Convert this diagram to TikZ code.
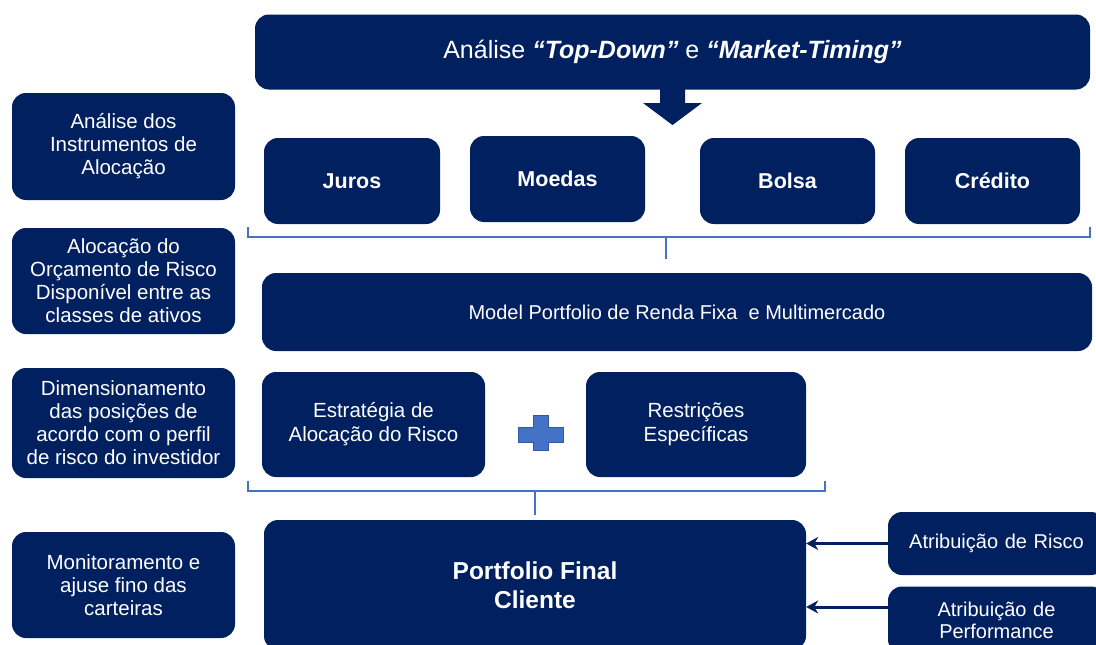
\documentclass[tikz,border=0pt]{standalone}
\usepackage{fontspec}
\setmainfont{Liberation Sans}
\usetikzlibrary{arrows.meta}
\definecolor{navy}{RGB}{0,32,96}
\definecolor{lblue}{RGB}{68,114,196}
\tikzset{
  box/.style={fill=navy, draw=none, rounded corners=14pt, text=white, align=center, inner sep=0pt},
  side/.style={box, minimum width=223pt, font=\fontsize{20.5}{23}\selectfont},
  cls/.style={box, minimum width=176pt, minimum height=86pt, font=\fontsize{21.5}{24}\selectfont\bfseries},
  brk/.style={draw=lblue, line width=2pt},
  arr/.style={draw=navy, line width=3pt, -{Stealth[length=12pt,width=13pt]}},
}
\begin{document}
\begin{tikzpicture}[x=1pt,y=-1pt]
\useasboundingbox (0,0) rectangle (1096,645);
\clip (0,0) rectangle (1096,645);
% top
\node[box, minimum width=835pt, minimum height=75pt, font=\fontsize{25}{28}\selectfont] (top) at (672.5,52)
  {Análise \textbf{\textit{“Top-Down”}} e \textbf{\textit{“Market-Timing”}}};
\fill[navy] (660,86) -- (685,86) -- (685,103) -- (702,103) -- (672.5,125) -- (643,103) -- (660,103) -- cycle;
% side
\node[side, minimum height=107pt] (s1) at (123.5,146.5) {Análise dos\\Instrumentos de\\Alocação};
\node[side, minimum height=106pt] (s2) at (123.5,281) {Alocação do\\Orçamento de Risco\\Disponível entre as\\classes de ativos};
\node[side, minimum height=110pt] (s3) at (123.5,423) {Dimensionamento\\das posições de\\acordo com o perfil\\de risco do investidor};
\node[side, minimum height=106pt] (s4) at (123.5,585) {Monitoramento e\\ajuse fino das\\carteiras};
% classes
\node[cls] (juros) at (352,181) {Juros};
\node[cls, minimum width=175pt] (moedas) at (557.5,179) {Moedas};
\node[cls, minimum width=175pt] (bolsa) at (787.5,181) {Bolsa};
\node[cls, minimum width=175pt] (credito) at (992.5,181) {Crédito};
% bracket 1
\coordinate (b1l) at (248,227);
\coordinate (b1r) at (1090,227);
\coordinate (b1c) at (666,237);
\coordinate (b1t) at (666,259);
\draw[brk] (b1l) |- (b1c) -| (b1r);
\draw[brk] (b1c) -- (b1t);
% model
\node[box, minimum width=830pt, minimum height=78pt, font=\fontsize{20}{23}\selectfont] (model) at (677,312)
  {Model Portfolio de Renda Fixa\ \ e Multimercado};
% strategy
\node[box, minimum width=223pt, minimum height=105pt, font=\fontsize{20.5}{24}\selectfont] (estr) at (373.5,424.5) {Estratégia de\\Alocação do Risco};
\node[box, minimum width=220pt, minimum height=105pt, font=\fontsize{20.5}{24}\selectfont] (restr) at (696,424.5) {Restrições\\Específicas};
% plus
\fill[lblue, draw=lblue!70!navy, line width=0.6pt]
  (533,415) -- (548,415) -- (548,427) -- (563,427) -- (563,442) -- (548,442) -- (548,450) -- (533,450) -- (533,442) -- (518,442) -- (518,427) -- (533,427) -- cycle;
% bracket 2
\coordinate (b2l) at (248,481);
\coordinate (b2r) at (825,481);
\coordinate (b2c) at (535,491);
\coordinate (b2t) at (535,515);
\draw[brk] (b2l) |- (b2c) -| (b2r);
\draw[brk] (b2c) -- (b2t);
% final
\node[box, minimum width=542pt, minimum height=130pt, font=\fontsize{24.5}{29}\selectfont\bfseries] (final) at (535,585) {Portfolio Final\\Cliente};
% attribution
\node[box, minimum width=217pt, minimum height=63pt, font=\fontsize{20}{22}\selectfont, text width=200pt] (ar) at (996.5,543.5) {Atribuição de Risco};
\node[box, minimum width=217pt, minimum height=67pt, font=\fontsize{20}{22}\selectfont, text width=200pt] (ap) at (996.5,620) {Atribuição de\\Performance};
\draw[arr] (ar.west) -- (final.east |- ar.west);
\coordinate (apw) at ([yshift=13pt]ap.west);
\draw[arr] (apw) -- (final.east |- apw);
\end{tikzpicture}
\end{document}
